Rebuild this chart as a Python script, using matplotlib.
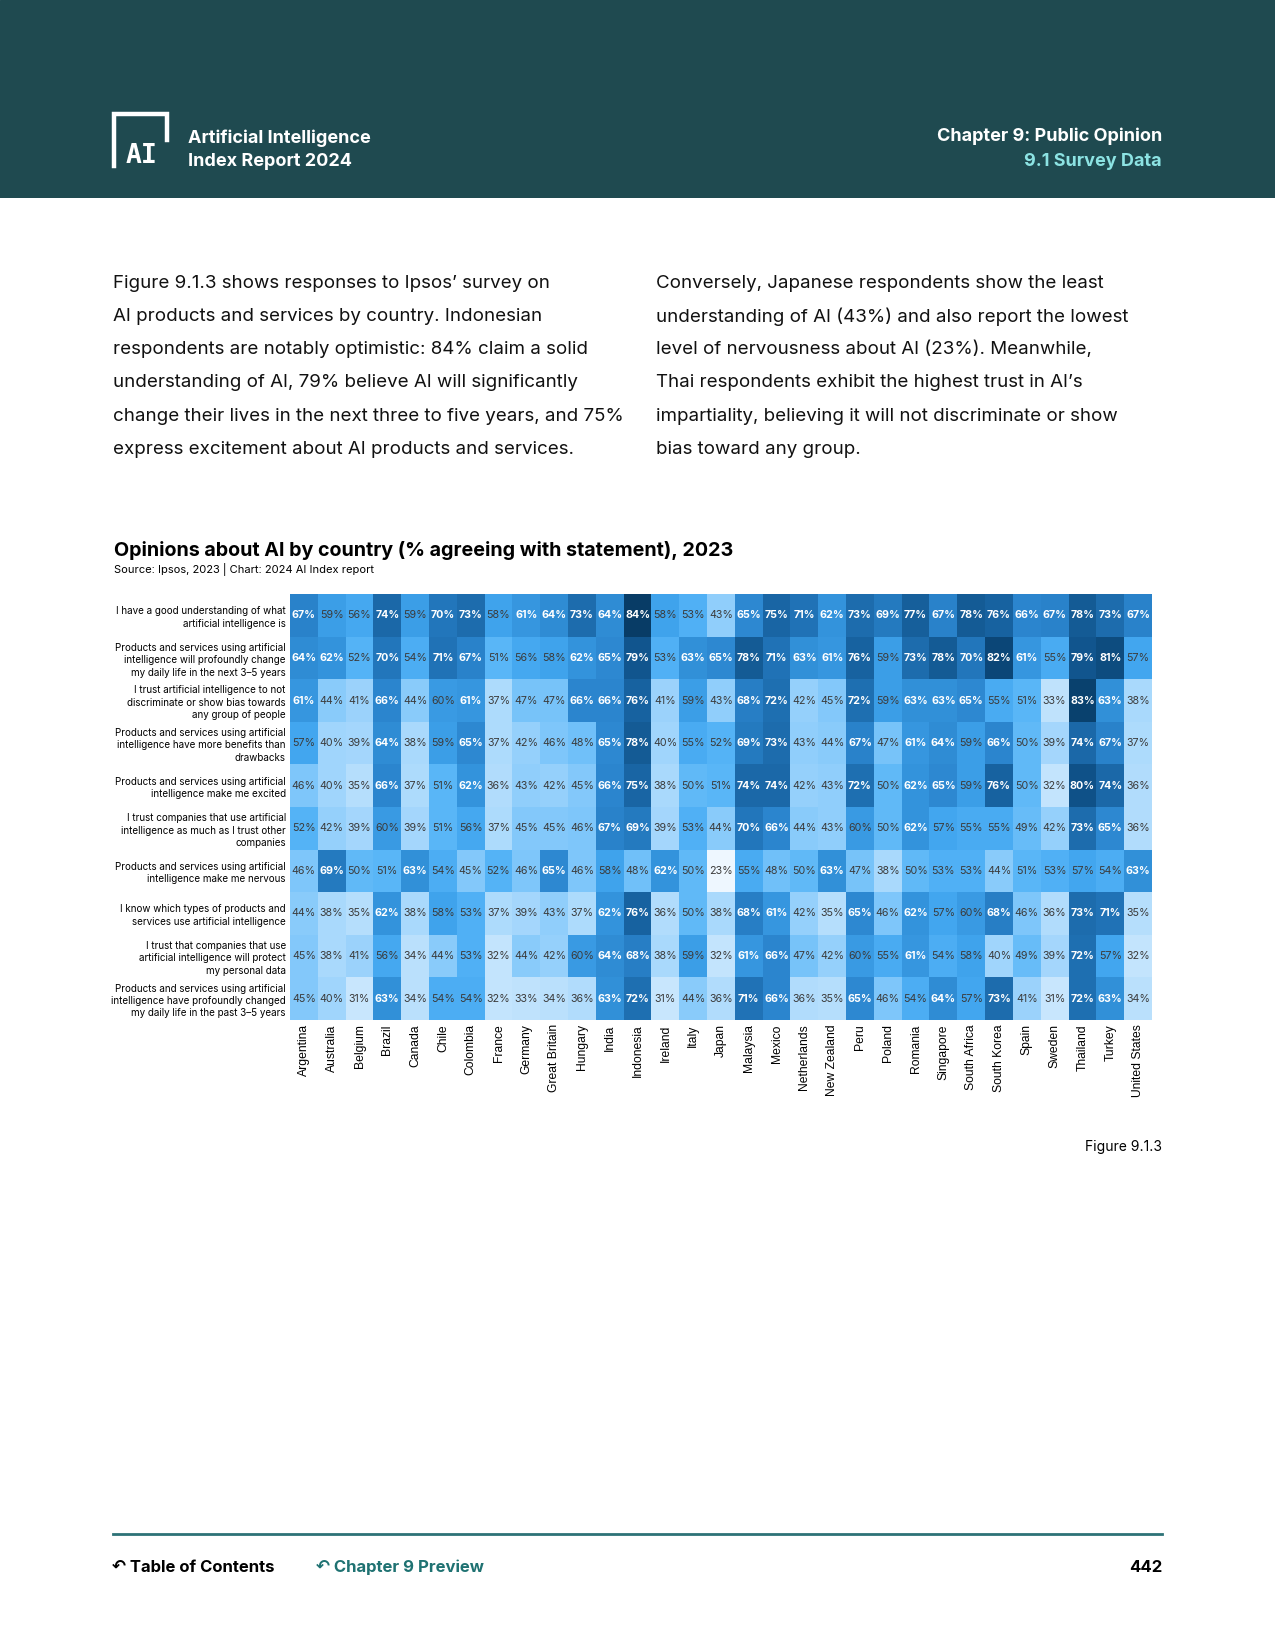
import numpy as np
import matplotlib
matplotlib.use("Agg")
import matplotlib.pyplot as plt
from matplotlib.colors import LinearSegmentedColormap

W, H = 1275, 1650

countries = ["Argentina", "Australia", "Belgium", "Brazil", "Canada", "Chile", "Colombia",
             "France", "Germany", "Great Britain", "Hungary", "India", "Indonesia", "Ireland",
             "Italy", "Japan", "Malaysia", "Mexico", "Netherlands", "New Zealand", "Peru",
             "Poland", "Romania", "Singapore", "South Africa", "South Korea", "Spain", "Sweden",
             "Thailand", "Turkey", "United States"]

statements = [
    "I have a good understanding of what\nartificial intelligence is",
    "Products and services using artificial\nintelligence will profoundly change\nmy daily life in the next 3–5 years",
    "I trust artificial intelligence to not\ndiscriminate or show bias towards\nany group of people",
    "Products and services using artificial\nintelligence have more benefits than\ndrawbacks",
    "Products and services using artificial\nintelligence make me excited",
    "I trust companies that use artificial\nintelligence as much as I trust other\ncompanies",
    "Products and services using artificial\nintelligence make me nervous",
    "I know which types of products and\nservices use artificial intelligence",
    "I trust that companies that use\nartificial intelligence will protect\nmy personal data",
    "Products and services using artificial\nintelligence have profoundly changed\nmy daily life in the past 3–5 years",
]

understanding = [67, 59, 56, 74, 59, 70, 73, 58, 61, 64, 73, 64, 84, 58, 53, 43, 65, 75, 71, 62, 73, 69, 77, 67, 78, 76, 66, 67, 78, 73, 67]
change_future = [64, 62, 52, 70, 54, 71, 67, 51, 56, 58, 62, 65, 79, 53, 63, 65, 78, 71, 63, 61, 76, 59, 73, 78, 70, 82, 61, 55, 79, 81, 57]
no_bias = [61, 44, 41, 66, 44, 60, 61, 37, 47, 47, 66, 66, 76, 41, 59, 43, 68, 72, 42, 45, 72, 59, 63, 63, 65, 55, 51, 33, 83, 63, 38]
benefits = [57, 40, 39, 64, 38, 59, 65, 37, 42, 46, 48, 65, 78, 40, 55, 52, 69, 73, 43, 44, 67, 47, 61, 64, 59, 66, 50, 39, 74, 67, 37]
excited = [46, 40, 35, 66, 37, 51, 62, 36, 43, 42, 45, 66, 75, 38, 50, 51, 74, 74, 42, 43, 72, 50, 62, 65, 59, 76, 50, 32, 80, 74, 36]
trust_companies = [52, 42, 39, 60, 39, 51, 56, 37, 45, 45, 46, 67, 69, 39, 53, 44, 70, 66, 44, 43, 60, 50, 62, 57, 55, 55, 49, 42, 73, 65, 36]
nervous = [46, 69, 50, 51, 63, 54, 45, 52, 46, 65, 46, 58, 48, 62, 50, 23, 55, 48, 50, 63, 47, 38, 50, 53, 53, 44, 51, 53, 57, 54, 63]
know_products = [44, 38, 35, 62, 38, 58, 53, 37, 39, 43, 37, 62, 76, 36, 50, 38, 68, 61, 42, 35, 65, 46, 62, 57, 60, 68, 46, 36, 73, 71, 35]
protect_data = [45, 38, 41, 56, 34, 44, 53, 32, 44, 42, 60, 64, 68, 38, 59, 32, 61, 66, 47, 42, 60, 55, 61, 54, 58, 40, 49, 39, 72, 57, 32]
changed_past = [45, 40, 31, 63, 34, 54, 54, 32, 33, 34, 36, 63, 72, 31, 44, 36, 71, 66, 36, 35, 65, 46, 54, 64, 57, 73, 41, 31, 72, 63, 34]

data = np.array([understanding, change_future, no_bias, benefits, excited,
                 trust_companies, nervous, know_products, protect_data, changed_past])

left_par = ["Figure 9.1.3 shows responses to Ipsos’ survey on",
            "AI products and services by country. Indonesian",
            "respondents are notably optimistic: 84% claim a solid",
            "understanding of AI, 79% believe AI will significantly",
            "change their lives in the next three to five years, and 75%",
            "express excitement about AI products and services."]
right_par = ["Conversely, Japanese respondents show the least",
             "understanding of AI (43%) and also report the lowest",
             "level of nervousness about AI (23%). Meanwhile,",
             "Thai respondents exhibit the highest trust in AI’s",
             "impartiality, believing it will not discriminate or show",
             "bias toward any group."]

plt.rcParams['font.family'] = ['Inter', 'DejaVu Sans']

def fx(x):
    return x / W

def fy(y):
    return 1 - y / H

fig = plt.figure(figsize=(W / 100, H / 100), dpi=100)

# header band
hdr = fig.add_axes([0, fy(198), 1, 198 / H])
hdr.set_xlim(0, W)
hdr.set_ylim(198, 0)
hdr.axis("off")
hdr.add_patch(plt.Rectangle((0, 0), W, 198, color="#1f4a50"))
hdr.plot([114, 114, 167, 167], [166, 114, 114, 140], color="white", lw=3.2, solid_joinstyle="miter")
hdr.text(141, 156, "AI", color="white", fontsize=19, fontweight="bold", ha="center", va="center", family="DejaVu Sans Mono")
hdr.text(188, 138, "Artificial Intelligence", color="white", fontsize=13, fontweight="bold", va="center")
hdr.text(188, 162, "Index Report 2024", color="white", fontsize=13, fontweight="bold", va="center")
hdr.text(1162, 136, "Chapter 9: Public Opinion", color="white", fontsize=13, fontweight="bold", va="center", ha="right")
hdr.text(1162, 162, "9.1 Survey Data", color="#8ce3e3", fontsize=13, fontweight="bold", va="center", ha="right")

# body paragraphs
for i, line in enumerate(left_par):
    fig.text(fx(113), fy(283 + i * 33.3), line, fontsize=13.5, va="center", color="#111111")
for i, line in enumerate(right_par):
    fig.text(fx(656), fy(283 + i * 33.3), line, fontsize=13.5, va="center", color="#111111")

# chart title
fig.text(fx(114), fy(551), "Opinions about AI by country (% agreeing with statement), 2023",
         fontsize=14.2, fontweight="bold", va="center")
fig.text(fx(114), fy(570), "Source: Ipsos, 2023 | Chart: 2024 AI Index report", fontsize=8, va="center")

# heatmap
cmap = LinearSegmentedColormap.from_list("blues", [
    (0.00, "#eef7ff"), (0.15, "#c2e4fd"), (0.28, "#a0d5fc"), (0.38, "#7dc6fa"),
    (0.47, "#55b4f7"), (0.56, "#42a6ef"), (0.64, "#3393dc"), (0.72, "#2a83cb"),
    (0.80, "#1f70b3"), (0.88, "#17619e"), (0.94, "#0f5187"), (1.00, "#083c66")])

ax = fig.add_axes([fx(290), fy(1020), (1152 - 290) / W, (1020 - 594) / H])
ax.imshow(data, cmap=cmap, vmin=23, vmax=84, aspect="auto", interpolation="nearest")
for r in range(data.shape[0]):
    for c in range(data.shape[1]):
        v = data[r, c]
        if v >= 61:
            ax.text(c, r, f"{v}%", ha="center", va="center", fontsize=7.7, color="white", fontweight="bold")
        else:
            ax.text(c, r, f"{v}%", ha="center", va="center", fontsize=7.7, color="#3b3b3b")

ax.set_xticks(range(len(countries)))
ax.set_xticklabels(countries, rotation=90, fontsize=8.7, family="Liberation Sans")
ax.set_yticks(range(len(statements)))
ax.set_yticklabels(statements, fontsize=7.1, linespacing=1.3)
ax.tick_params(length=0, pad=3)
for s in ax.spines.values():
    s.set_visible(False)

fig.text(fx(1162), fy(1147), "Figure 9.1.3", fontsize=10, ha="right", va="center")

# footer
fig.add_artist(plt.Line2D([fx(113), fx(1162)], [fy(1534), fy(1534)], color="#2d7277", lw=2))
fig.text(fx(112), fy(1567), "↶ Table of Contents", fontsize=12, fontweight="bold", va="center",
         family=["Inter", "DejaVu Sans"])
fig.text(fx(316), fy(1567), "↶ Chapter 9 Preview", fontsize=12, fontweight="bold", va="center",
         color="#1f7272", family=["Inter", "DejaVu Sans"])
fig.text(fx(1162), fy(1567), "442", fontsize=12, fontweight="bold", va="center", ha="right")

fig.savefig("out.png", dpi=100)
